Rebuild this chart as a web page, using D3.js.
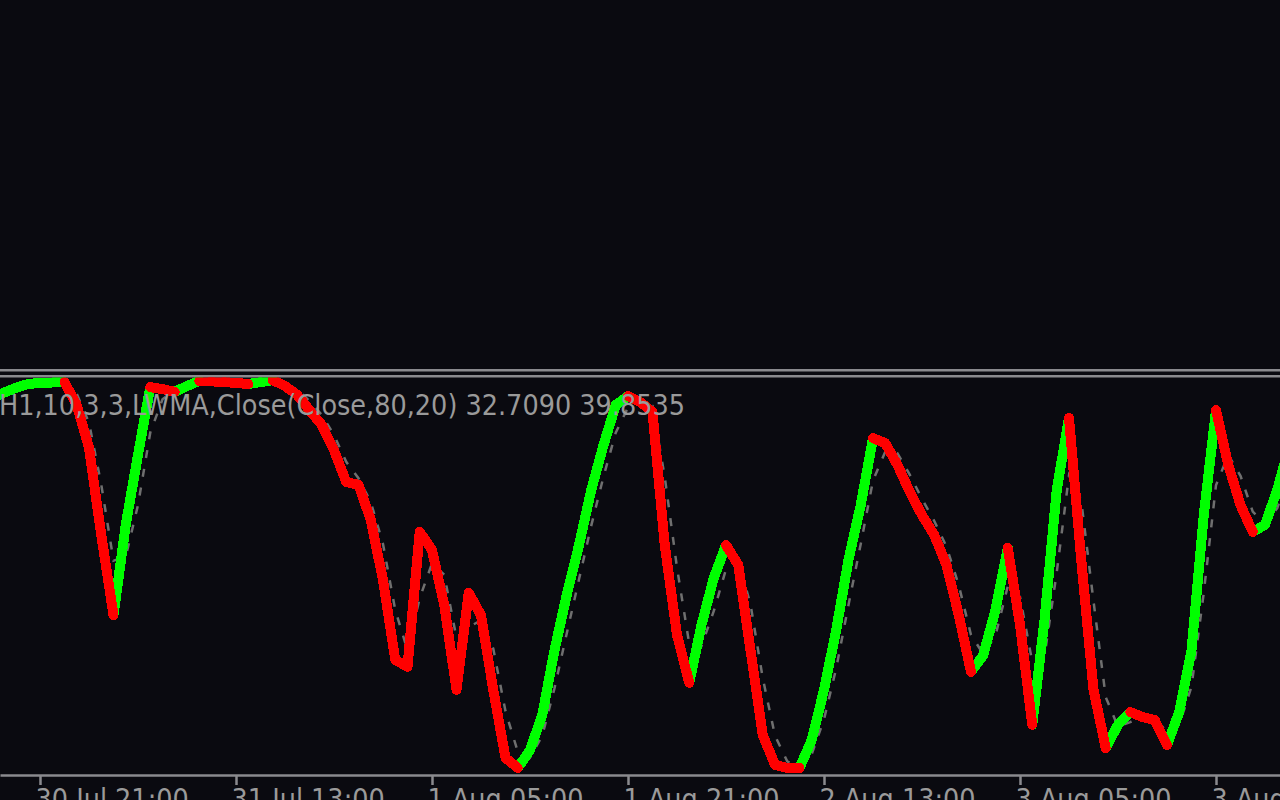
<!DOCTYPE html>
<html><head><meta charset="utf-8">
<script src="https://cdn.jsdelivr.net/npm/d3@7"></script>
<style>html,body{margin:0;padding:0;background:#0a0a10;overflow:hidden}</style>
</head><body><svg id="c" width="1280" height="800"></svg>
<script>
// bar index of the first value (bar 0 = 30 Jul 21:00, one bar per hour)
const firstBar = -4;
// %K main line (0..100)
const mainValues = [
  95.1, 96.4, 97.7, 98.7, 99.0, 99.1, 99.2, 93.3, 82.3, 59.9,
  39.3, 62.5, 80.5, 97.9, 97.4, 96.7, 98.2, 99.5, 99.4, 99.2,
  99.0, 98.7, 99.2, 99.7, 98.2, 95.9, 92.0, 88.2, 81.7, 73.5,
  72.8, 63.8, 48.3, 27.8, 26.0, 60.7, 56.0, 41.9, 20.1, 45.0,
  39.3, 20.1, 2.6, 0.0, 4.6, 13.6, 30.3, 44.5, 57.3, 71.5,
  83.0, 93.3, 95.6, 94.1, 91.5, 57.3, 34.2, 21.9, 36.8, 48.8,
  57.3, 52.2, 30.3, 8.5, 0.8, 0.0, 0.0, 7.2, 20.1, 35.5,
  53.5, 67.6, 84.8, 83.5, 77.9, 71.0, 65.0, 59.9, 52.2, 39.3,
  24.7, 29.0, 40.6, 56.6, 36.8, 11.1, 38.0, 71.5, 90.0, 53.5,
  20.1, 5.1, 11.1, 14.4, 13.1, 12.3, 5.9, 14.4, 30.3, 65.0,
  92.0, 77.9, 67.6, 60.7, 62.5, 71.5, 83.0
];
// %D signal line (0..100)
const signalValues = [
  93.5, 95.6, 96.8, 98.0, 98.7, 99.0, 99.1, 96.2, 88.8, 72.9,
  53.3, 54.3, 67.6, 86.2, 94.8, 97.1, 97.6, 98.6, 99.2, 99.3,
  99.1, 98.9, 99.0, 99.4, 98.9, 97.3, 94.3, 90.8, 85.6, 78.7,
  74.5, 68.4, 57.6, 40.6, 30.3, 43.7, 52.6, 49.7, 33.4, 36.2,
  38.0, 30.7, 14.6, 4.2, 2.7, 8.3, 20.5, 34.6, 48.5, 62.3,
  74.9, 86.2, 92.7, 94.5, 93.1, 74.8, 51.5, 31.9, 31.4, 40.3,
  51.1, 53.3, 42.1, 23.1, 8.3, 1.7, 0.1, 3.6, 12.5, 25.7,
  41.9, 57.6, 73.9, 81.3, 80.9, 75.4, 69.2, 63.5, 56.9, 47.0,
  34.2, 29.3, 34.1, 46.7, 44.0, 27.3, 28.8, 50.3, 75.2, 68.7,
  42.9, 18.2, 10.6, 11.8, 13.2, 12.9, 9.2, 11.2, 20.9, 45.0,
  72.7, 80.5, 75.1, 65.9, 62.8, 66.8, 75.8
];
const tickBars = [0, 16, 32, 48, 64, 80, 96];
const tickLabels = ["30 Jul 21:00", "31 Jul 13:00", "1 Aug 05:00", "1 Aug 21:00", "2 Aug 13:00", "3 Aug 05:00", "3 Aug 21:00"];
const headerText = "H1,10,3,3,LWMA,Close(Close,80,20) 32.7090 39.8535";

const W = 1280, H = 800;
const svg = d3.select("#c");
svg.append("rect").attr("width", W).attr("height", H).attr("fill", "#0a0a10");

const x = d3.scaleLinear().domain([0, 96]).range([40, 1216]);
const y = d3.scaleLinear().domain([0, 100]).range([768, 379]);

// window separator lines
svg.append("rect").attr("x", 0).attr("y", 369).attr("width", W).attr("height", 2.5).attr("fill", "#8a8a8e");
svg.append("rect").attr("x", 0).attr("y", 375).attr("width", W).attr("height", 2.5).attr("fill", "#8a8a8e");

const defs = svg.append("defs");
defs.append("clipPath").attr("id", "plot").append("rect")
  .attr("x", 0).attr("y", 377.5).attr("width", W).attr("height", 396.5);

const plot = svg.append("g").attr("clip-path", "url(#plot)");

const bars = mainValues.map((v, i) => ({ k: firstBar + i, v: v, s: signalValues[i] }));

// signal (dotted gray)
plot.append("path")
  .datum(bars)
  .attr("fill", "none")
  .attr("stroke", "#6f6f6f")
  .attr("stroke-width", 2.5)
  .attr("stroke-dasharray", "8,11")
  .attr("d", d3.line().x(d => x(d.k)).y(d => y(d.s)));

// color buffers: rising segment marks both ends "up", otherwise "down"
const up = bars.map(() => false), dn = bars.map(() => false);
for (let i = 1; i < bars.length; i++) {
  if (bars[i].v > bars[i - 1].v) { up[i - 1] = true; up[i] = true; }
  else { dn[i - 1] = true; dn[i] = true; }
}
const greenSegs = [], redSegs = [];
for (let i = 1; i < bars.length; i++) {
  if (up[i - 1] && up[i]) greenSegs.push([bars[i - 1], bars[i]]);
  if (dn[i - 1] && dn[i]) redSegs.push([bars[i - 1], bars[i]]);
}
const seg = d3.line().x(d => x(d.k)).y(d => y(d.v));
function drawSegs(list, color) {
  plot.append("g").selectAll("path").data(list).join("path")
    .attr("fill", "none")
    .attr("stroke", color)
    .attr("stroke-width", 10)
    .attr("stroke-linecap", "round")
    .attr("stroke-linejoin", "round")
    .attr("shape-rendering", "crispEdges")
    .attr("d", seg);
}
drawSegs(greenSegs, "#00ff00");
drawSegs(redSegs, "#ff0000");

// header text
const font = "DejaVu Sans";
const hdr = svg.append("text")
  .attr("x", -1).attr("y", 415)
  .attr("font-family", font).attr("font-size", 28)
  .attr("fill", "#9a9a9a")
  .text(headerText);
const natural = hdr.node().getComputedTextLength();
const squeeze = 686 / natural;
hdr.attr("textLength", 686).attr("lengthAdjust", "spacingAndGlyphs");

// bottom axis
const xa = x.copy().domain([x.invert(0), x.invert(W)]).range([0, W]);
const axis = d3.axisBottom(xa).tickValues(tickBars)
  .tickFormat((d, i) => tickLabels[i]).tickSize(10).tickSizeOuter(0).tickPadding(4);
const ag = svg.append("g").attr("transform", "translate(0,775)").call(axis);
ag.select(".domain").attr("stroke", "#8a8a8e").attr("stroke-width", 2.5);
ag.selectAll(".tick line").attr("stroke", "#8a8a8e").attr("stroke-width", 2.5);
ag.selectAll(".tick text")
  .attr("font-family", font).attr("font-size", 28)
  .attr("fill", "#9a9a9a")
  .attr("text-anchor", "start")
  .attr("x", -5).attr("y", 34).attr("dy", 0)
  .each(function () {
    const t = d3.select(this);
    const n = this.getComputedTextLength();
    t.attr("textLength", n * squeeze).attr("lengthAdjust", "spacingAndGlyphs");
  });
</script>
</body></html>
